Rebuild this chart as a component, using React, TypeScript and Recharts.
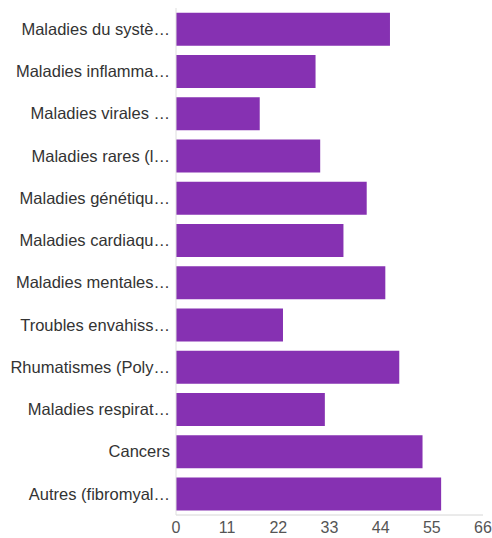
import { Bar, BarChart, XAxis, YAxis } from "recharts"

const categories = [
  "Maladies du systè…",
  "Maladies inflamma…",
  "Maladies virales …",
  "Maladies rares (l…",
  "Maladies génétiqu…",
  "Maladies cardiaqu…",
  "Maladies mentales…",
  "Troubles envahiss…",
  "Rhumatismes (Poly…",
  "Maladies respirat…",
  "Cancers",
  "Autres (fibromyal…",
]

const counts = [46, 30, 18, 31, 41, 36, 45, 23, 48, 32, 53, 57]

const xTicks = [0, 11, 22, 33, 44, 55, 66]

const data = categories.map((name, i) => ({ name, count: counts[i] }))

const font = "'Liberation Sans', Arial, Helvetica, sans-serif"

export default function App() {
  return (
    <div style={{ position: "absolute", left: 0, top: 0, background: "#fff" }}>
      <BarChart
        width={492}
        height={538}
        data={data}
        layout="vertical"
        margin={{ top: 8, right: 9, bottom: 0, left: 0 }}
        barCategoryGap="11%"
      >
        <XAxis
          type="number"
          domain={[0, 66]}
          ticks={xTicks}
          height={23}
          stroke="#d6d6d6"
          tickLine={false}
          tickSize={5}
          tickMargin={2}
          tick={{ fill: "#555555", fontSize: 16, fontFamily: font }}
        />
        <YAxis
          type="category"
          dataKey="name"
          width={176}
          stroke="#dedede"
          tickLine={false}
          tickSize={4}
          tickMargin={2}
          interval={0}
          tick={{ fill: "#333333", fontSize: 16.5, fontFamily: font }}
        />
        <Bar dataKey="count" fill="#8631b2" isAnimationActive={false} />
      </BarChart>
    </div>
  )
}
